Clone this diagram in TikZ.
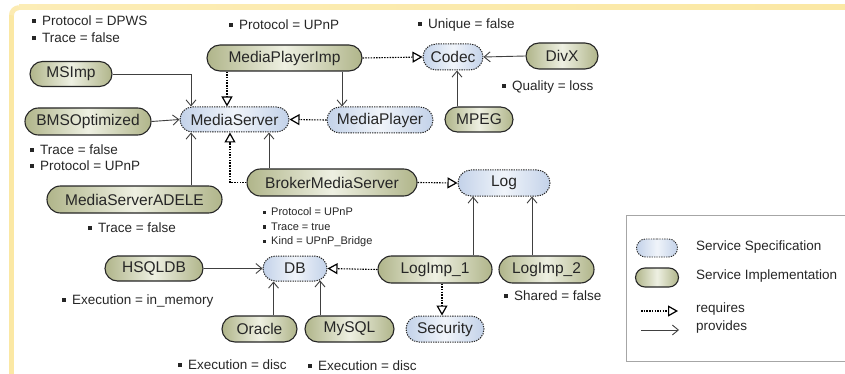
\documentclass[tikz,border=0pt]{standalone}
\usepackage{fontspec}
\setmainfont{Liberation Sans}
\usetikzlibrary{shapes.misc,arrows.meta}
\definecolor{impD}{HTML}{B0B58A}
\definecolor{impL}{HTML}{EEF0E2}
\definecolor{spcD}{HTML}{C3D2E9}
\definecolor{spcL}{HTML}{F0F4FA}
\definecolor{frameY}{HTML}{FBE8A4}
\definecolor{txt}{HTML}{262626}
\newcommand\blt{\raisebox{0.2em}{\rule{0.28em}{0.28em}}\hspace{0.45em}}
\begin{document}
\begin{tikzpicture}[x=1pt,y=-1pt,
  impl/.style={rounded rectangle, draw=black!85, line width=1.1pt, left color=impD, right color=impD, middle color=impL, inner sep=0pt, font=\fontsize{15.5}{18}\selectfont, text=txt},
  spec/.style={rounded rectangle, draw=black!85, line width=1pt, dash pattern=on 1.3pt off 1.1pt, left color=spcD, right color=spcD, middle color=spcL, inner sep=0pt, font=\fontsize{15.5}{18}\selectfont, text=txt},
  prov/.style={draw=black!75, line width=0.9pt, -{Straight Barb[length=6pt,width=10pt]}},
  req/.style={draw=black, line width=1.1pt, dash pattern=on 1.5pt off 1.2pt, -{Triangle[open,length=10pt,width=11pt,line width=1.2pt]}},
  note/.style={anchor=west, inner sep=0pt, font=\fontsize{13.5}{16}\selectfont, text=txt},
  snote/.style={anchor=west, inner sep=0pt, font=\fontsize{11}{13}\selectfont, text=txt}
]
\useasboundingbox (0,0) rectangle (845,374);
% frame
\fill[frameY] (9,15) rectangle (14,374);
\shade[left color=frameY!80!white, middle color=frameY!35!white, right color=frameY] (19,5) rectangle (845,10);
\draw[frameY!85!white, line width=5pt] (11.5,15.2) arc[start angle=180, end angle=270, radius=7.5];

% nodes
\node[impl, minimum width=82, minimum height=25] (msimp) at (71,74) {MSImp};
\node[impl, minimum width=155, minimum height=26] (mpimp) at (284.5,58) {MediaPlayerImp};
\node[spec, minimum width=60, minimum height=26] (codec) at (453,57) {Codec};
\node[impl, minimum width=72, minimum height=26] (divx) at (562,56) {DivX};
\node[spec, minimum width=109, minimum height=25] (ms) at (234.5,119.5) {MediaServer};
\node[spec, minimum width=106, minimum height=26] (mp) at (380,120) {MediaPlayer};
\node[impl, minimum width=68, minimum height=25] (mpeg) at (479,119.5) {MPEG};
\node[impl, minimum width=126, minimum height=27] (bms) at (88,121.5) {BMSOptimized};
\node[impl, minimum width=170, minimum height=27] (broker) at (332,182.5) {BrokerMediaServer};
\node[spec, minimum width=92, minimum height=26] (log) at (504,183) {Log};
\node[impl, minimum width=175, minimum height=27] (adele) at (134.5,199.5) {MediaServerADELE};
\node[impl, minimum width=98, minimum height=25] (hsql) at (154,268.5) {HSQLDB};
\node[spec, minimum width=64, minimum height=25] (db) at (295,268.5) {DB};
\node[impl, minimum width=114, minimum height=27] (log1) at (435,269.5) {LogImp\_1};
\node[impl, minimum width=95, minimum height=27] (log2) at (546.5,269.5) {LogImp\_2};
\node[impl, minimum width=75, minimum height=26] (oracle) at (259.5,329) {Oracle};
\node[impl, minimum width=89, minimum height=26] (mysql) at (349.5,329) {MySQL};
\node[spec, minimum width=78, minimum height=26] (sec) at (445,329) {Security};

% connectors
\draw[prov] (msimp.east) -| ([xshift=-43.5]ms.north);
\draw[prov] (bms.east) -- (ms.west);
\draw[prov] ([xshift=56.5]adele.north) -- ([xshift=-43.5]ms.south);
\draw[req] ([xshift=-57.5]mpimp.south) -- ([xshift=-7.5]ms.north);
\draw[prov] ([xshift=57.5]mpimp.south) -- ([xshift=-38]mp.north);
\draw[req] (mpimp.east) -- (codec.west);
\draw[req] (mp.west) -- (ms.east);
\draw[prov] (divx.west) -- (codec.east);
\draw[prov] ([xshift=-22]mpeg.north) -- ([xshift=4]codec.south);
\draw[req] (broker.west) -| ([xshift=-4.5]ms.south);
\draw[prov] ([xshift=-63]broker.north) -- ([xshift=34.5]ms.south);
\draw[req] (broker.east) -- (log.west);
\draw[prov] ([xshift=38]log1.north) -- ([xshift=-31]log.south);
\draw[prov] ([xshift=-14.5]log2.north) -- ([xshift=28]log.south);
\draw[req] (log1.west) -- (db.east);
\draw[prov] (hsql.east) -- (db.west);
\draw[prov] ([xshift=14]oracle.north) -- ([xshift=-21.5]db.south);
\draw[prov] ([xshift=-29.5]mysql.north) -- ([xshift=25,yshift=1.2]db.south);
\draw[req] ([xshift=7]log1.south) -- ([xshift=-3]sec.north);

% annotations
\node[note] (a1) at (32,21) {\blt Protocol = DPWS};
\node[note] (a1b) at (32,38) {\blt Trace = false};
\node[note] (a2) at (229,25) {\blt Protocol = UPnP};
\node[note] (a3) at (418,25) {\blt Unique = false};
\node[note] (a4) at (502,87) {\blt Quality = loss};
\node[note] (a5) at (30,150) {\blt Trace = false};
\node[note] (a5b) at (30,166) {\blt Protocol = UPnP};
\node[note] (a6) at (88,228) {\blt Trace = false};
\node[snote] (a7) at (263,212) {\blt Protocol = UPnP};
\node[snote] (a7b) at (263,227) {\blt Trace = true};
\node[snote] (a7c) at (263,242) {\blt Kind = UPnP\_Bridge};
\node[note] (a8) at (62,301) {\blt Execution = in\_memory};
\node[note] (a9) at (504,296) {\blt Shared = false};
\node[note] (a10) at (178,365) {\blt Execution = disc};
\node[note] (a11) at (308,366) {\blt Execution = disc};

% legend
\draw[black!35, line width=1pt] (626,215) rectangle (850,361);
\node[spec, minimum width=41, minimum height=18, line width=0.9pt] (lspec) at (657,248) {};
\node[impl, minimum width=43, minimum height=19] (limpl) at (657,277.5) {};
\node[note] (ltspec) at (696,247) {Service Specification};
\node[note] (ltimpl) at (696,276) {Service Implementation};
\coordinate (rq1) at (641,311);
\coordinate (rq2) at (678,311);
\coordinate (pv1) at (641,330);
\coordinate (pv2) at (679,330);
\draw[req] (rq1) -- (rq2);
\draw[prov] (pv1) -- (pv2);
\node[note] (ltreq) at (696,309) {requires};
\node[note] (ltprov) at (696,327) {provides};
\end{tikzpicture}
\end{document}
